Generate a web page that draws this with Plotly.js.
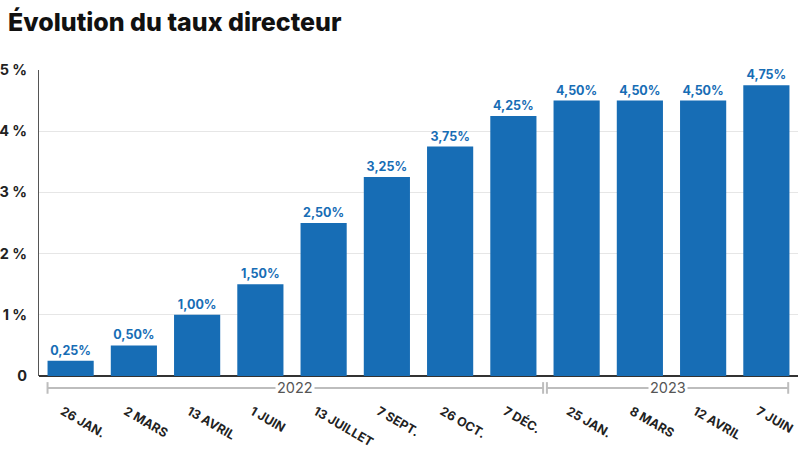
<!DOCTYPE html>
<html><head><meta charset="utf-8">
<script src="https://cdn.plot.ly/plotly-3.0.1.min.js"></script>
<style>html,body{margin:0;padding:0;background:#fff}#chart{width:800px;height:450px}</style>
</head><body><div id="chart"></div>
<script>
const dates = ['26 JAN.', '2 MARS', '13 AVRIL', '1 JUIN', '13 JUILLET', '7 SEPT.', '26 OCT.', '7 DÉC.', '25 JAN.', '8 MARS', '12 AVRIL', '7 JUIN'];
const rates = [0.25, 0.5, 1, 1.5, 2.5, 3.25, 3.75, 4.25, 4.5, 4.5, 4.5, 4.75];
const yTickVals = [0, 1, 2, 3, 4, 5];
const yTickText = ['0', '1 %', '2 %', '3 %', '4 %', '5 %'];
const years = ['2022', '2023'];
const yearFirst = [0, 8];
const yearLast = [7, 11];

const idx = dates.map((d, i) => i);
const barW = 0.73;
const BLUE = '#176db5';
const FONT = 'Inter, "Noto Sans", sans-serif';

const shapes = [];
const annotations = [];
const lineY = -0.039, capLo = -0.02, capHi = -0.058;
const grey = '#bdbdbd';
years.forEach((yr, k) => {
  const x0 = k === 0 ? yearFirst[k] - barW / 2 : yearFirst[k] - 0.47;
  const x1 = k === years.length - 1 ? yearLast[k] + barW / 2 - 0.02 : yearLast[k] + 0.47;
  shapes.push({type: 'line', xref: 'x', yref: 'paper', x0: x0, x1: x1, y0: lineY, y1: lineY, line: {color: grey, width: 2}});
  shapes.push({type: 'line', xref: 'x', yref: 'paper', x0: x0, x1: x0, y0: capLo, y1: capHi, line: {color: grey, width: 2}});
  shapes.push({type: 'line', xref: 'x', yref: 'paper', x0: x1, x1: x1, y0: capLo, y1: capHi, line: {color: grey, width: 2}});
  annotations.push({xref: 'x', yref: 'paper', x: (x0 + x1) / 2, y: lineY, text: yr, showarrow: false,
    bgcolor: '#fff', borderpad: 1, xanchor: 'center', yanchor: 'middle',
    font: {family: FONT, size: 14.5, color: '#555'}});
});

const trace = {
  type: 'bar', x: idx, y: rates, width: barW,
  marker: {color: BLUE},
  texttemplate: '%{y:.2f}%', textposition: 'outside', cliponaxis: false,
  textfont: {family: FONT, size: 12.5, color: BLUE, weight: 700},
  hoverinfo: 'skip'
};

const layout = {
  width: 800, height: 450,
  margin: {l: 39, r: 2, t: 70, b: 74},
  separators: ', ',
  paper_bgcolor: '#fff', plot_bgcolor: '#fff',
  showlegend: false,
  title: {text: 'Évolution du taux directeur', x: 0.01, xanchor: 'left', xref: 'container',
    y: 0.951, yanchor: 'middle', font: {family: FONT, size: 25, color: '#111', weight: 800}},
  xaxis: {
    range: [-0.5, 11.5], tickmode: 'array', tickvals: idx, ticktext: dates,
    tickangle: 30, ticks: '', showgrid: false, zeroline: false, showline: false,
    ticklabelstandoff: 25, ticklabelshift: -8,
    tickfont: {family: FONT, size: 12.5, color: '#222', weight: 700}
  },
  yaxis: {
    range: [0, 5], tickmode: 'array', tickvals: yTickVals, ticktext: yTickText,
    showgrid: true, gridcolor: '#e6e6e6', gridwidth: 1,
    zeroline: true, zerolinecolor: '#333', zerolinewidth: 1.5,
    showline: true, linecolor: '#555', linewidth: 1,
    ticks: '', ticklabelstandoff: 8,
    tickfont: {family: FONT, size: 14.5, color: '#222', weight: 700}
  },
  shapes: shapes,
  annotations: annotations
};

Plotly.newPlot('chart', [trace], layout, {displayModeBar: false, staticPlot: true});
</script></body></html>
